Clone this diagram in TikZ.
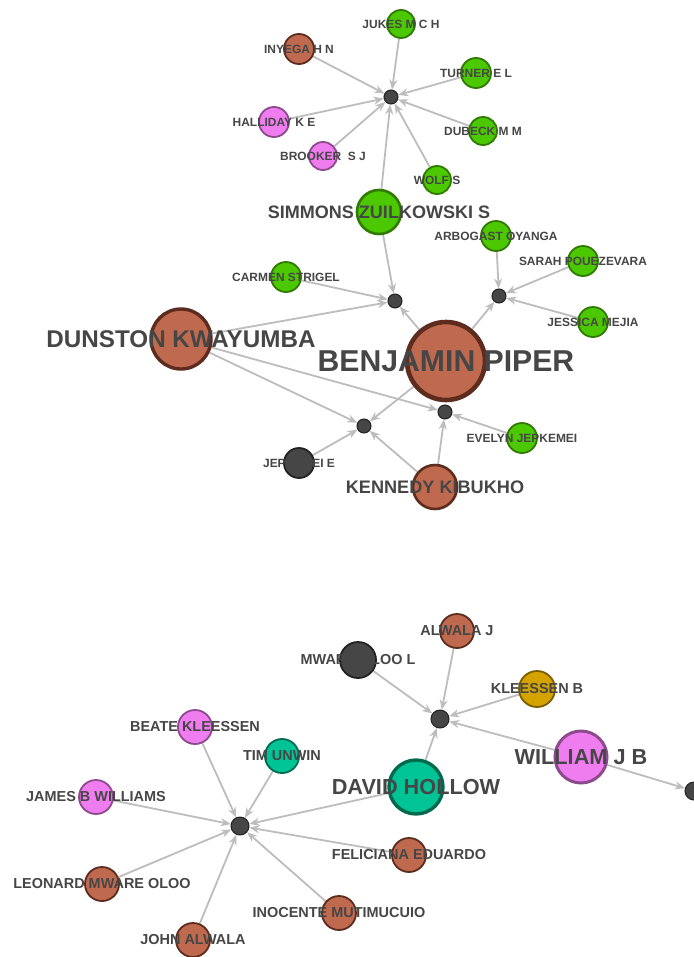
\documentclass[tikz,border=0pt]{standalone}
\usepackage{fontspec}
\setmainfont{Liberation Sans}
\usepackage{xcolor}
\usepackage{tikz}
\usetikzlibrary{positioning, arrows.meta}
\definecolor{cRust}{HTML}{BF6A4F}
\definecolor{cRustD}{HTML}{5E2C1E}
\definecolor{cLime}{HTML}{4CC800}
\definecolor{cLimeD}{HTML}{2F7A00}
\definecolor{cOrchid}{HTML}{F07DF0}
\definecolor{cOrchidD}{HTML}{8E4A8E}
\definecolor{cJade}{HTML}{00C495}
\definecolor{cJadeD}{HTML}{006A4E}
\definecolor{cAmber}{HTML}{D4A300}
\definecolor{cAmberD}{HTML}{7A5E00}
\definecolor{cSlate}{HTML}{464646}
\definecolor{cSlateD}{HTML}{222222}
\definecolor{nInk}{HTML}{464646}
\definecolor{nEdge}{HTML}{BDBDBD}
\pgfdeclarelayer{bg}
\pgfsetlayers{bg,main}
\tikzset{
  who/.style={circle, inner sep=0pt, line width=1.8bp, minimum size=#1},
  rust/.style={who=#1, fill=cRust, draw=cRustD},
  lime/.style={who=#1, fill=cLime, draw=cLimeD},
  orchid/.style={who=#1, fill=cOrchid, draw=cOrchidD},
  jade/.style={who=#1, fill=cJade, draw=cJadeD},
  amber/.style={who=#1, fill=cAmber, draw=cAmberD},
  slate/.style={who=#1, fill=cSlate, draw=cSlateD},
  hub/.style={circle, inner sep=0pt, fill=cSlate, draw=cSlateD, line width=1bp, minimum size=#1},
  tag/.style={font=\bfseries\fontsize{#1}{#1}\selectfont, text=nInk, inner sep=0pt},
  link/.style={draw=nEdge, line width=1.8bp, -{Stealth[length=10bp,width=8bp]}},
}

\begin{document}
\begin{tikzpicture}[x=1bp, y=-1bp]
  \begin{pgfonlayer}{bg}
    \fill[white] (0,0) rectangle (694,957);
  \end{pgfonlayer}
  \useasboundingbox (0,0) rectangle (694,957);

  % hubs
  \node[hub=14bp] (h1) at (391,97) {};
  \node[hub=14bp] (h2) at (395,301) {};
  \node[hub=14bp] (h3) at (499,296) {};
  \node[hub=14bp] (h4) at (364,426) {};
  \node[hub=14bp] (h5) at (445,412) {};
  \node[hub=18bp] (h6) at (440,719) {};
  \node[hub=18bp] (h7) at (240,826) {};
  \node[hub=18bp] (h8) at (694,791) {};

  % upper group
  \node[lime=28bp, label={[tag=12]center:JUKES M C H}] (jukes) at (401,24) {};
  \node[rust=30bp, label={[tag=12]center:INYEGA H N}] (inyega) at (299,49) {};
  \node[lime=30bp, label={[tag=12]center:TURNER E L}] (turner) at (476,73) {};
  \node[orchid=30bp, label={[tag=12]center:HALLIDAY K E}] (halliday) at (274,122) {};
  \node[lime=28bp, label={[tag=12]center:DUBECK M M}] (dubeck) at (483,131) {};
  \node[orchid=28bp, label={[tag=12]center:BROOKER\ \ S J}] (brooker) at (323,156) {};
  \node[lime=28bp, label={[tag=12]center:WOLF S}] (wolf) at (437,180) {};
  \node[lime=44bp, line width=2.6bp, label={[tag=18.1]center:SIMMONS ZUILKOWSKI S}] (simmons) at (379,212) {};
  \node[lime=30bp, label={[tag=12]center:CARMEN STRIGEL}] (carmen) at (286,277) {};
  \node[lime=30bp, label={[tag=12]center:ARBOGAST OYANGA}] (arbogast) at (496,236) {};
  \node[lime=30bp, label={[tag=12]center:SARAH POUEZEVARA}] (sarah) at (583,261) {};
  \node[lime=30bp, label={[tag=12]center:JESSICA MEJIA}] (jessica) at (593,322) {};
  \node[rust=60bp, line width=3.4bp, label={[tag=24.3]center:DUNSTON KWAYUMBA}] (dunston) at (181,339) {};
  \node[rust=78bp, line width=4.6bp, label={[tag=30.3]center:BENJAMIN PIPER}] (benjamin) at (446,361) {};
  \node[slate=30bp, label={[tag=12]center:JEPKEMEI E}] (jepkemei) at (299,463) {};
  \node[lime=30bp, label={[tag=12]center:EVELYN JEPKEMEI}] (evelyn) at (522,438) {};
  \node[rust=44bp, line width=2.6bp, label={[tag=18.2]center:KENNEDY KIBUKHO}] (kennedy) at (435,487) {};

  % lower group
  \node[rust=34bp, label={[tag=14.5]center:ALWALA J}] (alwala) at (457,631) {};
  \node[slate=36bp, label={[tag=14.5]center:MWARE OLOO L}] (mware) at (358,660) {};
  \node[amber=36bp, label={[tag=14.5]center:KLEESSEN B}] (kleessen) at (537,689) {};
  \node[orchid=52bp, line width=3bp, label={[tag=21.8]center:WILLIAM J B}] (william) at (581,757) {};
  \node[jade=54bp, line width=3.4bp, label={[tag=21.8]center:DAVID HOLLOW}] (david) at (416,787) {};
  \node[orchid=34bp, label={[tag=14.5]center:BEATE KLEESSEN}] (beate) at (195,727) {};
  \node[jade=34bp, label={[tag=14.5]center:TIM UNWIN}] (tim) at (282,756) {};
  \node[orchid=34bp, label={[tag=14.5]center:JAMES B WILLIAMS}] (james) at (96,797) {};
  \node[rust=34bp, label={[tag=14.5]center:FELICIANA EDUARDO}] (feliciana) at (409,855) {};
  \node[rust=34bp, label={[tag=14.5]center:LEONARD MWARE OLOO}] (leonard) at (102,884) {};
  \node[rust=34bp, label={[tag=14.5]center:INOCENTE MUTIMUCUIO}] (inocente) at (339,913) {};
  \node[rust=34bp, label={[tag=14.5]center:JOHN ALWALA}] (john) at (193,940) {};

  \begin{pgfonlayer}{bg}
    \foreach \src in {inyega,jukes,turner,halliday,dubeck,brooker,wolf,simmons}
      \draw[link] (\src) -- (h1);
    \foreach \src in {simmons,carmen,dunston,benjamin}
      \draw[link] (\src) -- (h2);
    \foreach \src in {arbogast,sarah,jessica,benjamin}
      \draw[link] (\src) -- (h3);
    \foreach \src in {dunston,benjamin,jepkemei,kennedy}
      \draw[link] (\src) -- (h4);
    \foreach \src in {dunston,kennedy,evelyn}
      \draw[link] (\src) -- (h5);
    \foreach \src in {alwala,mware,kleessen,william,david}
      \draw[link] (\src) -- (h6);
    \draw[link] (william) -- (h8);
    \foreach \src in {beate,tim,james,david,feliciana,leonard,inocente,john}
      \draw[link] (\src) -- (h7);
  \end{pgfonlayer}
\end{tikzpicture}
\end{document}
